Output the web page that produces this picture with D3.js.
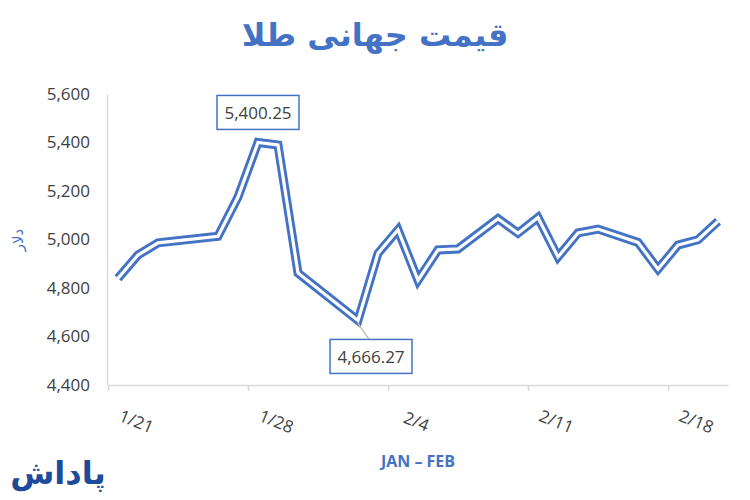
<!DOCTYPE html>
<html>
<head>
<meta charset="utf-8">
<script src="https://cdn.jsdelivr.net/npm/d3@7"></script>
<style>
  html, body { margin: 0; padding: 0; background: #fff; }
  svg { display: block; }
</style>
</head>
<body>
<svg id="chart"></svg>
<script>
// Gold price, Jan-Feb (USD per ounce)
const dates = ["1/21", "1/22", "1/23", "1/26", "1/27", "1/28", "1/29", "1/30",
  "2/2", "2/3", "2/4", "2/5", "2/6", "2/7", "2/9", "2/10", "2/11", "2/12", "2/13",
  "2/14", "2/16", "2/17", "2/18", "2/19", "2/20"];
const prices = [4840, 4936, 4986, 5013, 5175, 5400.25, 5390, 4862,
  4666.27, 4943, 5040, 4832, 4957, 4961, 5086, 5026, 5091, 4928, 5027,
  5043, 4988, 4878, 4977, 4999, 5075];
const xTicks = ["1/21", "1/28", "2/4", "2/11", "2/18"];
const yTicks = [4400, 4600, 4800, 5000, 5200, 5400, 5600];

const title = "قیمت جهانی طلا";
const yTitle = "دلار";
const xTitle = "JAN – FEB";
const logo = "پاداش";

const width = 750, height = 500;
const margin = { top: 94, right: 22, bottom: 115, left: 108 };

const blue = "#4472c4";
const textGrey = "#404040";
const axisGrey = "#d9d9d9";
const numFont = "'Open Sans', sans-serif";

const parse = s => d3.timeParse("%m/%d/%Y")(s + "/2026");
const data = dates.map((d, i) => ({ date: parse(d), value: prices[i] }));

const svg = d3.select("#chart")
  .attr("width", width)
  .attr("height", height)
  .attr("viewBox", `0 0 ${width} ${height}`);

// date axis: one slot per day, points sit in the middle of their day
const x = d3.scaleTime()
  .domain([parse("1/21"), parse("2/21")])
  .range([margin.left, width - margin.right]);
const y = d3.scaleLinear()
  .domain([4400, 5600])
  .range([height - margin.bottom, margin.top]);
const px = d => x(d3.timeHour.offset(d, 12));

// Title
svg.append("text")
  .attr("x", 375)
  .attr("y", 46)
  .attr("text-anchor", "middle")
  .attr("direction", "rtl")
  .attr("font-family", "'DejaVu Sans', sans-serif")
  .attr("font-weight", "bold")
  .attr("font-size", "32px")
  .attr("fill", blue)
  .text(title);

// Y axis
const yAxis = svg.append("g")
  .attr("transform", `translate(${margin.left - 1}, 0)`)
  .call(d3.axisLeft(y).tickValues(yTicks).tickSize(0).tickPadding(17).tickFormat(d3.format(",")));
yAxis.select(".domain").attr("stroke", axisGrey).attr("stroke-width", 1.5);
yAxis.selectAll("text")
  .attr("font-family", numFont)
  .attr("font-size", "17px")
  .attr("fill", textGrey);

// X axis
const xAxis = svg.append("g")
  .attr("transform", `translate(0, ${height - margin.bottom})`)
  .call(d3.axisBottom(x).tickValues(xTicks.map(parse)).tickSize(6).tickSizeOuter(0)
    .tickFormat(d3.timeFormat("%-m/%-d")));
xAxis.select(".domain").attr("stroke", axisGrey).attr("stroke-width", 1.5);
xAxis.selectAll(".tick line").attr("stroke", axisGrey).attr("stroke-width", 1.5);
xAxis.selectAll("text")
  .attr("font-family", numFont)
  .attr("font-size", "17px")
  .attr("fill", textGrey)
  .attr("text-anchor", "middle")
  .attr("dy", null)
  .attr("y", null)
  .attr("dominant-baseline", "central")
  .attr("transform", "translate(28, 36) rotate(22)");

// Axis titles
svg.append("text")
  .attr("transform", `translate(18, 240) rotate(-90)`)
  .attr("text-anchor", "middle")
  .attr("dominant-baseline", "central")
  .attr("font-family", "'DejaVu Sans', sans-serif")
  .attr("font-size", "15px")
  .attr("fill", blue)
  .text(yTitle);

svg.append("text")
  .attr("x", 418)
  .attr("y", 467)
  .attr("text-anchor", "middle")
  .attr("font-family", numFont)
  .attr("font-weight", "bold")
  .attr("font-size", "16px")
  .attr("fill", blue)
  .text(xTitle);

// Double (compound) line: wide blue stroke with a white core
const line = d3.line().x(d => px(d.date)).y(d => y(d.value));
svg.append("path")
  .datum(data)
  .attr("fill", "none")
  .attr("stroke", blue)
  .attr("stroke-width", 9)
  .attr("stroke-linejoin", "miter")
  .attr("d", line);
svg.append("path")
  .datum(data)
  .attr("fill", "none")
  .attr("stroke", "#fff")
  .attr("stroke-width", 3.2)
  .attr("stroke-linejoin", "miter")
  .attr("d", line);

// Callouts for max and min
const maxPt = data[d3.maxIndex(data, d => d.value)];
const minPt = data[d3.minIndex(data, d => d.value)];
const fmt = d3.format(",.2f");

function callout(cx, top, label) {
  const w = 82, h = 34;
  svg.append("rect")
    .attr("x", cx - w / 2).attr("y", top)
    .attr("width", w).attr("height", h)
    .attr("fill", "#fff")
    .attr("stroke", blue)
    .attr("stroke-width", 1.5);
  svg.append("text")
    .attr("x", cx).attr("y", top + h / 2)
    .attr("text-anchor", "middle")
    .attr("dominant-baseline", "central")
    .attr("font-family", numFont)
    .attr("font-size", "17px")
    .attr("fill", textGrey)
    .text(label);
}

callout(px(maxPt.date), y(maxPt.value) - 47, fmt(maxPt.value));

svg.append("line")
  .attr("x1", px(minPt.date)).attr("y1", y(minPt.value) + 3)
  .attr("x2", px(minPt.date) + 11).attr("y2", y(minPt.value) + 19)
  .attr("stroke", "#c8bfa8")
  .attr("stroke-width", 1.5);
callout(px(minPt.date) + 13, y(minPt.value) + 19, fmt(minPt.value));

// Logo
svg.append("text")
  .attr("x", 58)
  .attr("y", 484)
  .attr("text-anchor", "middle")
  .attr("direction", "rtl")
  .attr("font-family", "'DejaVu Sans', sans-serif")
  .attr("font-weight", "bold")
  .attr("font-size", "32px")
  .attr("fill", "#1d4b9b")
  .text(logo);
</script>
</body>
</html>
